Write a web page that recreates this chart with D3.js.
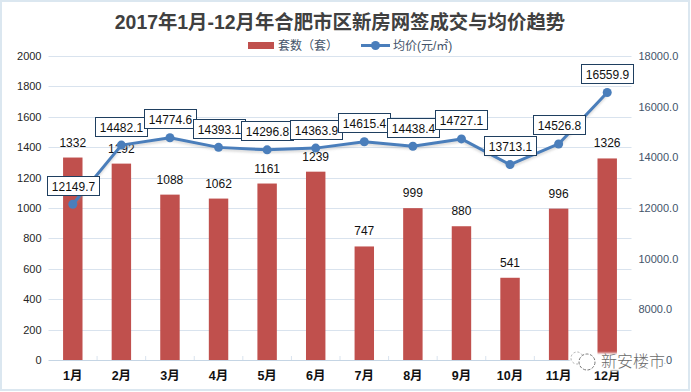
<!DOCTYPE html>
<html>
<head>
<meta charset="utf-8">
<script src="https://cdn.jsdelivr.net/npm/d3@7"></script>
<style>
    html, body {margin: 0; padding: 0; background: #fff}
    svg {display: block}
    text {font-family: "Liberation Sans", "Noto Sans CJK SC", sans-serif}
    .axis path {display: none}
</style>
</head>
<body>
<svg id="chart" width="691" height="392"></svg>
<script>
const months = ['1月', '2月', '3月', '4月', '5月', '6月', '7月', '8月', '9月', '10月', '11月', '12月']
const counts = [1332, 1292, 1088, 1062, 1161, 1239, 747, 999, 880, 541, 996, 1326]
const prices = [12149.7, 14482.1, 14774.6, 14393.1, 14296.8, 14363.9, 14615.4, 14438.4, 14727.1, 13713.1, 14526.8, 16559.9]
const countTicks = [0, 200, 400, 600, 800, 1000, 1200, 1400, 1600, 1800, 2000]
const priceTicks = [6000, 8000, 10000, 12000, 14000, 16000, 18000]

const title = '2017年1月-12月年合肥市区新房网签成交与均价趋势'
const countName = '套数（套）'
const priceName = '均价(元/㎡)'
const watermark = '新安楼市'

const width = 691
const height = 392
const plot = {left: 48.5, right: 631.5, top: 56, bottom: 360}

const svg = d3.select('#chart')

const x = d3.scaleBand().domain(months).range([plot.left, plot.right]).paddingInner(0.6).paddingOuter(0.3)
const yCount = d3.scaleLinear().domain([0, 2000]).range([plot.bottom, plot.top])
const yPrice = d3.scaleLinear().domain([6000, 18000]).range([plot.bottom, plot.top])
const cx = d => x(d) + x.bandwidth() / 2

const defs = svg.append('defs')
defs.append('filter')
    .attr('id', 'soft')
    .append('feGaussianBlur')
    .attr('stdDeviation', 1)

// outer frame
svg.append('rect')
    .attr('x', 1)
    .attr('y', 1)
    .attr('width', width - 3)
    .attr('height', height - 3)
    .attr('fill', '#fff')
    .attr('stroke', '#dbe7f0')
    .attr('stroke-width', 2)

svg.append('text')
    .attr('x', 340)
    .attr('y', 29)
    .attr('text-anchor', 'middle')
    .attr('font-size', 19.4)
    .attr('font-weight', 700)
    .attr('fill', '#404040')
    .style('font-family', '"Liberation Sans", "Noto Sans CJK SC"')
    .text(title)

// grid
svg.append('g')
    .selectAll('line')
    .data(countTicks)
    .enter()
    .append('line')
    .attr('x1', plot.left)
    .attr('x2', plot.right)
    .attr('y1', d => Math.round(yCount(d)) + 0.5)
    .attr('y2', d => Math.round(yCount(d)) + 0.5)
    .attr('stroke', d => d === 0 ? '#c5d5e4' : '#d9e3ee')

// left axis
const leftAxis = svg.append('g')
    .attr('class', 'axis')
    .attr('transform', `translate(${plot.left},0)`)
    .call(d3.axisLeft(yCount).tickValues(countTicks).tickFormat(d3.format('d')).tickSize(0).tickPadding(7))
leftAxis.selectAll('text')
    .attr('font-size', 11)
    .attr('fill', '#262626')

// right axis
const rightAxis = svg.append('g')
    .attr('class', 'axis')
    .attr('transform', `translate(${plot.right},0)`)
    .call(d3.axisRight(yPrice).tickValues(priceTicks).tickFormat(d3.format('.1f')).tickSize(0).tickPadding(7))
rightAxis.selectAll('text')
    .attr('font-size', 11)
    .attr('fill', '#44546a')

// category axis, ticks sit between the months
const bottomAxis = svg.append('g')
    .attr('class', 'axis')
    .attr('transform', `translate(0,${plot.bottom})`)
    .call(d3.axisBottom(x).tickSize(0).tickPadding(11))
bottomAxis.selectAll('text')
    .attr('font-size', 12.5)
    .attr('font-weight', 700)
    .attr('fill', '#111')

const step = x.step()
svg.append('g')
    .selectAll('line')
    .data(months)
    .enter()
    .append('line')
    .attr('x1', d => cx(d) + step / 2)
    .attr('x2', d => cx(d) + step / 2)
    .attr('y1', plot.bottom - 4)
    .attr('y2', plot.bottom)
    .attr('stroke', '#d9e3ee')

// bars
svg.append('g')
    .selectAll('rect')
    .data(months)
    .enter()
    .append('rect')
    .attr('x', d => x(d))
    .attr('y', (d, i) => yCount(counts[i]))
    .attr('width', x.bandwidth())
    .attr('height', (d, i) => plot.bottom - yCount(counts[i]))
    .attr('fill', '#c0504d')

svg.append('g')
    .selectAll('text')
    .data(months)
    .enter()
    .append('text')
    .attr('x', d => cx(d))
    .attr('y', (d, i) => yCount(counts[i]) - 11)
    .attr('text-anchor', 'middle')
    .attr('font-size', 12)
    .attr('fill', '#111')
    .text((d, i) => counts[i])

// price line
const line = d3.line()
    .x(d => cx(d))
    .y((d, i) => yPrice(prices[i]))

svg.append('path')
    .datum(months)
    .attr('d', line)
    .attr('transform', 'translate(0,2)')
    .attr('fill', 'none')
    .attr('stroke', '#999')
    .attr('stroke-opacity', 0.35)
    .attr('stroke-width', 3)
    .attr('filter', 'url(#soft)')

svg.append('path')
    .datum(months)
    .attr('d', line)
    .attr('fill', 'none')
    .attr('stroke', '#4a7ebb')
    .attr('stroke-width', 3)
    .attr('stroke-linejoin', 'round')

svg.append('g')
    .selectAll('circle')
    .data(months)
    .enter()
    .append('circle')
    .attr('cx', d => cx(d))
    .attr('cy', (d, i) => yPrice(prices[i]))
    .attr('r', 4.5)
    .attr('fill', '#4a7ebb')

// price labels in boxes
const boxes = svg.append('g')
    .selectAll('g')
    .data(months)
    .enter()
    .append('g')
    .attr('transform', (d, i) => `translate(${Math.round(cx(d))},${Math.round(yPrice(prices[i]) - 18.5)})`)

boxes.append('rect')
    .attr('x', -25.5)
    .attr('y', -9.5)
    .attr('width', 52)
    .attr('height', 19)
    .attr('fill', '#fff')
    .attr('stroke', '#1f3f60')

boxes.append('text')
    .attr('x', 0.5)
    .attr('y', 4.5)
    .attr('text-anchor', 'middle')
    .attr('font-size', 12)
    .attr('fill', '#111')
    .text((d, i) => prices[i].toFixed(1))

// legend
const legend = svg.append('g').attr('font-size', 12).attr('fill', '#44546a')
legend.append('rect')
    .attr('x', 248)
    .attr('y', 42)
    .attr('width', 26)
    .attr('height', 7)
    .attr('fill', '#c0504d')
legend.append('text')
    .attr('x', 278)
    .attr('y', 50)
    .text(countName)
legend.append('line')
    .attr('x1', 361)
    .attr('x2', 390)
    .attr('y1', 45.5)
    .attr('y2', 45.5)
    .attr('stroke', '#4a7ebb')
    .attr('stroke-width', 3)
legend.append('circle')
    .attr('cx', 375.5)
    .attr('cy', 45.5)
    .attr('r', 4.5)
    .attr('fill', '#4a7ebb')
legend.append('text')
    .attr('x', 393)
    .attr('y', 50)
    .text(priceName)

// watermark, its pale patch hides what lies under it
const mark = svg.append('g')
mark.append('rect')
    .attr('x', 570)
    .attr('y', 353)
    .attr('width', 95)
    .attr('height', 18)
    .attr('fill', '#fff')
    .attr('filter', 'url(#soft)')
mark.append('circle')
    .attr('cx', 577)
    .attr('cy', 358)
    .attr('r', 6)
    .attr('fill', '#fff')
    .attr('stroke', '#aaa')
    .attr('stroke-dasharray', '2 2')
mark.append('circle')
    .attr('cx', 587)
    .attr('cy', 362)
    .attr('r', 8)
    .attr('fill', '#fff')
    .attr('stroke', '#777')
    .attr('stroke-dasharray', '3 1.5')
mark.append('text')
    .attr('x', 601)
    .attr('y', 367)
    .attr('font-size', 16)
    .attr('font-weight', 300)
    .attr('fill', '#6a6a6a')
    .style('font-family', '"Noto Sans CJK SC"')
    .text(watermark)
</script>
</body>
</html>
